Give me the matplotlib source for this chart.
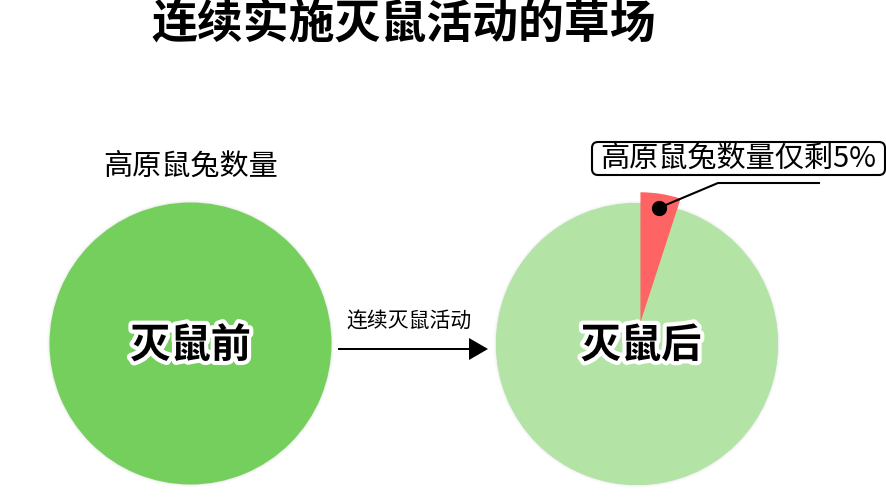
import numpy as np
import matplotlib.pyplot as plt
import matplotlib.patheffects as pe
from matplotlib.patches import Circle, FancyBboxPatch

plt.rcParams['font.family'] = ['Noto Sans CJK SC', 'DejaVu Sans']

# данные
title = '连续实施灭鼠活动的草场'
count_label = '高原鼠兔数量'
arrow_label = '连续灭鼠活动'
before_label = '灭鼠前'
after_label = '灭鼠后'
remain_label = '高原鼠兔数量仅剩5%'
before_values = [100]
after_values = [5, 95]  # осталось, уничтожено

H = 501


def Y(y):
    # пиксельная координата сверху -> снизу
    return H - y


fig = plt.figure(figsize=(8.87, 5.01), dpi=100)
ax = fig.add_axes([0, 0, 1, 1])

left_c = (190.5, Y(343.5))
right_c = (637, Y(344))
R = 141
green_light = '#b3e4a6'

# мягкая тень вокруг кругов
for c in (left_c, right_c):
    for i, a in enumerate([0.07, 0.04, 0.02]):
        ax.add_patch(Circle(c, R + 0.8 + i, color='#808080', alpha=a, lw=0, zorder=0))
ax.add_patch(Circle(right_c, R, color=green_light, lw=0, zorder=0.5))

ax.pie(before_values, center=left_c, radius=R, colors=['#74cf5c'],
       startangle=90, frame=True, wedgeprops=dict(lw=0))
wr, _ = ax.pie(after_values, center=right_c, radius=R,
               colors=['#ff6464', green_light], startangle=90, counterclock=False,
               explode=[22, 0], frame=True, wedgeprops=dict(lw=0))
red = wr[0]
red.set_radius(130)
red.set_zorder(3)

# точка и выноска
cx, cy = red.center
mid = np.deg2rad((red.theta1 + red.theta2) / 2)
dx = cx + red.r * 0.89 * np.cos(mid)
dy = cy + red.r * 0.89 * np.sin(mid)
ax.plot([dx, 718, 819], [dy, Y(183), Y(183)], color='black', lw=1.5, zorder=4)
ax.plot(dx, dy, 'o', color='black', markersize=10, zorder=5)

ax.add_patch(FancyBboxPatch((592, Y(175)), 293, 33,
                            boxstyle='round,pad=0,rounding_size=6',
                            fc='white', ec='black', lw=1.5, zorder=4))
ax.text(738.5, Y(158.5), remain_label, fontsize=21, ha='center', va='center', zorder=5)

# подписи
ax.text(404, Y(25), title, fontsize=33, fontweight='bold', ha='center', va='center')
ax.text(191, Y(167), count_label, fontsize=21, fontweight='medium', ha='center', va='center')
ax.text(409, Y(322), arrow_label, fontsize=15, ha='center', va='center')

stroke = [pe.withStroke(linewidth=6, foreground='white')]
ax.text(left_c[0], Y(346), before_label, fontsize=29, fontweight='bold',
        ha='center', va='center', path_effects=stroke, zorder=6)
ax.text(641, Y(346), after_label, fontsize=29, fontweight='bold',
        ha='center', va='center', path_effects=stroke, zorder=6)

# стрелка
ax.arrow(338, Y(349), 150, 0, width=2, head_width=22, head_length=19,
         length_includes_head=True, color='black', lw=0)

ax.set_xlim(0, 887)
ax.set_ylim(0, H)
ax.set_axis_off()
fig.savefig('out.png', dpi=100)
